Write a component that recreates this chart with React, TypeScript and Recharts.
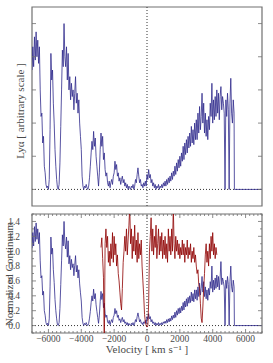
import { LineChart, Line, XAxis, YAxis, ReferenceLine, ReferenceArea } from "recharts";

// velocity grid of the spectrum, km/s
const VEL_START = -7000;
const VEL_STEP = 50;

// Lya flux, arbitrary scale, -7000 .. 5300 km/s (one row = 1000 km/s)
const LYA_FLUX = [
  3.6, 4.3, 3.7, 4.6, 3.9, 4.75, 4.0, 4.5, 3.8, 4.3, 3.0, 2.2, 2.3, 1.4, 1.6, 0.7, 0.5, 0.15, 0.05, 0.1,
  0.0, 0.3, 1.8, 4.1, 3.3, 3.6, 2.6, 2.0, 1.2, 0.7, 0.3, 0.05, 0.0, 0.15, 0.8, 1.9, 3.0, 4.2, 3.7, 5.0,
  4.0, 3.7, 4.3, 3.3, 4.1, 3.0, 3.4, 2.7, 3.2, 2.8, 3.0, 2.4, 2.9, 3.4, 2.6, 2.9, 2.3, 2.7, 2.0, 1.6,
  1.2, 0.4, 0.1, 0.0, 0.1, 0.05, 0.15, 0.05, 0.0, 0.1, 0.35, 0.7, 1.1, 1.45, 1.2, 1.75, 1.3, 1.55, 1.0, 0.7,
  0.4, 0.1, 0.5, 1.2, 1.7, 1.3, 1.6, 0.9, 1.1, 0.6, 0.4, 0.5, 0.2, 0.1, 0.25, 0.05, 0.2, 0.3, 0.15, 0.4,
  0.5, 0.85, 0.6, 0.75, 0.4, 0.5, 0.25, 0.35, 0.15, 0.3, 0.4, 0.2, 0.3, 0.1, 0.2, 0.05, 0.15, 0.0, 0.1, 0.05,
  0.0, 0.1, 0.05, 0.15, 0.0, 0.1, 0.3, 0.2, 0.45, 0.65, 0.4, 0.2, 0.3, 0.1, 0.15, 0.05, 0.2, 0.1, 0.25, 0.1,
  0.45, 0.3, 0.6, 0.35, 0.45, 0.2, 0.3, 0.1, 0.2, 0.05, 0.15, 0.0, 0.1, 0.05, 0.15, 0.0, 0.1, 0.05, 0.15, 0.05,
  0.2, 0.1, 0.25, 0.1, 0.3, 0.15, 0.35, 0.2, 0.4, 0.25, 0.5, 0.3, 0.55, 0.4, 0.7, 0.45, 0.8, 0.55, 0.9, 0.65,
  1.0, 0.7, 1.1, 0.85, 1.3, 0.9, 1.4, 1.05, 1.5, 1.1, 1.6, 1.25, 1.7, 1.3, 1.9, 1.4, 1.8, 1.35, 2.0, 1.5,
  2.1, 1.5, 2.3, 1.7, 2.5, 1.8, 2.2, 2.9, 2.0, 2.6, 1.7, 2.3, 1.6, 2.1, 1.5, 2.2, 1.8, 2.6, 2.2, 3.2,
  2.0, 2.7, 2.1, 2.8, 2.2, 3.0, 2.3, 2.9, 2.1, 2.8, 3.1, 2.4, 2.8, 2.6, 2.3, 0.0, 2.7, 2.2, 2.9, 2.4,
  0.0, 2.6, 3.35, 2.3, 2.0, 2.7, 2.3,
];

// same spectrum, normalized to the continuum
const NORM_FLUX = [
  1.04, 1.25, 1.07, 1.33, 1.13, 1.38, 1.16, 1.3, 1.1, 1.25, 0.87, 0.64, 0.67, 0.41, 0.46, 0.2, 0.14, 0.04, 0.01, 0.03,
  0.0, 0.09, 0.52, 1.19, 0.96, 1.04, 0.75, 0.58, 0.35, 0.2, 0.09, 0.01, 0.0, 0.04, 0.23, 0.55, 0.87, 1.22, 1.07, 1.4,
  1.11, 1.03, 1.19, 0.92, 1.14, 0.83, 0.94, 0.75, 0.89, 0.78, 0.83, 0.67, 0.81, 0.94, 0.72, 0.81, 0.64, 0.75, 0.56, 0.44,
  0.33, 0.11, 0.03, 0.0, 0.03, 0.01, 0.04, 0.01, 0.0, 0.03, 0.1, 0.19, 0.31, 0.4, 0.33, 0.49, 0.36, 0.43, 0.28, 0.19,
  0.11, 0.03, 0.14, 0.32, 0.46, 0.35, 0.43, 0.24, 0.3, 0.16, 0.11, 0.14, 0.05, 0.03, 0.07, 0.01, 0.05, 0.08, 0.04, 0.11,
  0.14, 0.23, 0.16, 0.2, 0.11, 0.14, 0.07, 0.09, 0.04, 0.08, 0.11, 0.05, 0.08, 0.03, 0.05, 0.01, 0.04, 0.0, 0.03, 0.01,
  0.0, 0.03, 0.01, 0.04, 0.0, 0.03, 0.08, 0.05, 0.12, 0.17, 0.11, 0.05, 0.08, 0.03, 0.04, 0.01, 0.05, 0.03, 0.07, 0.03,
  0.12, 0.08, 0.16, 0.09, 0.12, 0.05, 0.08, 0.03, 0.05, 0.01, 0.04, 0.0, 0.03, 0.01, 0.04, 0.0, 0.03, 0.01, 0.04, 0.01,
  0.05, 0.03, 0.06, 0.03, 0.08, 0.04, 0.09, 0.05, 0.1, 0.06, 0.13, 0.08, 0.14, 0.1, 0.18, 0.11, 0.2, 0.14, 0.23, 0.16,
  0.24, 0.17, 0.26, 0.2, 0.31, 0.21, 0.33, 0.25, 0.36, 0.26, 0.38, 0.3, 0.4, 0.31, 0.45, 0.33, 0.43, 0.32, 0.48, 0.36,
  0.48, 0.34, 0.52, 0.39, 0.57, 0.41, 0.5, 0.66, 0.45, 0.59, 0.39, 0.52, 0.36, 0.48, 0.34, 0.5, 0.41, 0.59, 0.5, 0.8,
  0.45, 0.61, 0.48, 0.64, 0.5, 0.68, 0.52, 0.66, 0.48, 0.64, 0.86, 0.55, 0.64, 0.59, 0.52, 0.0, 0.61, 0.5, 0.66, 0.55,
  0.0, 0.59, 0.8, 0.52, 0.45, 0.61, 0.52,
];

// second (red) normalized profile, -2800 .. 4250 km/s
const RED_START = -2800;
const RED_FLUX = [
  1.05, 1.18, 0.9, 0.65, -0.3, 1.1, 1.3, 1.05, 1.2, 0.85, 1.0, 0.8, 1.1, 0.9, 1.25, 0.85, 1.2, 0.95, 1.1, 0.8,
  0.95, 0.7, 0.6, 0.45, 0.3, 0.21, 0.5, 0.85, 1.0, 1.2, 1.0, 1.3, 0.95, 1.15, 1.35, 1.6, 1.1, 1.3, 0.9, 1.2,
  1.0, 1.35, 0.95, 1.15, 0.85, 1.25, 0.9, 1.1, 0.95, 1.15, 0.8, 0.6, 0.4, 0.15, 0.05, 0.0, -0.02, 0.0, 0.3, 1.0,
  1.2, 1.45, 1.0, 1.3, 0.95, 1.2, 1.05, 1.35, 0.9, 1.1, 1.3, 0.95, 1.2, 1.0, 1.25, 0.9, 1.15, 0.95, 1.2, 0.9,
  1.1, 0.85, 1.3, 1.0, 1.2, 0.95, 1.3, 1.0, 1.6, 1.1, 0.9, 1.2, 1.0, 1.15, 0.95, 1.1, 0.9, 1.05, 0.95, 1.15,
  0.95, 1.1, 0.85, 1.05, 0.95, 1.15, 0.9, 1.05, 0.95, 1.1, 0.85, 1.0, 0.9, 1.05, 0.85, 0.95, 0.8, 0.7, 0.75, 0.55,
  0.5, 0.3, 0.1, 0.04, 0.25, 0.5, 0.7, 0.95, 1.1, 0.85, 1.0, 0.8, 1.1, 0.9, 1.2, 1.0, 1.25, 0.95, 1.1, 0.9,
  1.05, 0.95,
];

// flat zero past the red end of the spectrum
const TAIL_VEL = [5320, 7000];
const TAIL_FLUX = [0, 0];

const X_TICKS = [-6000, -4000, -2000, 0, 2000, 4000, 6000];
const X_MINOR = [
  -7000, -6750, -6500, -6250, -6000, -5750, -5500, -5250, -5000, -4750,
  -4500, -4250, -4000, -3750, -3500, -3250, -3000, -2750, -2500, -2250,
  -2000, -1750, -1500, -1250, -1000, -750, -500, -250, 0, 250, 500, 750,
  1000, 1250, 1500, 1750, 2000, 2250, 2500, 2750, 3000, 3250, 3500, 3750,
  4000, 4250, 4500, 4750, 5000, 5250, 5500, 5750, 6000, 6250, 6500, 6750, 7000,
];
const LYA_TICKS = [0, 1, 2, 3, 4, 5];
const NORM_TICKS = [0, 0.2, 0.4, 0.6, 0.8, 1.0, 1.2, 1.4];
const NORM_MINOR = [
  -0.1, 0.0, 0.1, 0.2, 0.3, 0.4, 0.5, 0.6, 0.7, 0.8, 0.9, 1.0, 1.1, 1.2,
  1.3, 1.4, 1.5,
];

const topData = [
  ...LYA_FLUX.map((f, i) => ({ v: VEL_START + i * VEL_STEP, f })),
  ...TAIL_VEL.map((v, i) => ({ v, f: TAIL_FLUX[i] })),
];

const botData = [
  ...NORM_FLUX.map((f, i) => {
    const v = VEL_START + i * VEL_STEP;
    const j = (v - RED_START) / VEL_STEP;
    return { v, f, r: j >= 0 && j < RED_FLUX.length ? RED_FLUX[j] : null };
  }),
  ...TAIL_VEL.map((v, i) => ({ v, f: TAIL_FLUX[i], r: null })),
];

const FONT = "'Liberation Serif', 'DejaVu Serif', serif";
const AXIS_GREY = "#707070";
const TEXT_GREY = "#4a4a4a";
const BLUE = "#2f2a8c";
const RED = "#8e0000";
const X_DOMAIN: [number, number] = [-7000, 7000];
const LYA_DOMAIN: [number, number] = [-0.5, 5.5];
const NORM_DOMAIN: [number, number] = [-0.1, 1.5];

const PLOT_W = 230;
const TOP_H = 199;
const BOT_H = 119;
const X_MARGIN = 2; // gap between plot bottom and x tick labels
const Y_MARGIN = 12; // gap between plot left and y tick labels

const fmtVel = (v: number) => (v < 0 ? "\u2212" + Math.abs(v) : String(v));

// inward ticks on bottom and top edges, label under the bottom edge
function XTick(props: any) {
  const { x, y, payload, plotH, labels } = props;
  const v = payload.value as number;
  const major = X_TICKS.includes(v);
  const len = major ? 4 : 2;
  const yb = y - X_MARGIN;
  const yt = yb - plotH;
  return (
    <g>
      <line x1={x} x2={x} y1={yb} y2={yb - len} stroke={AXIS_GREY} strokeWidth={0.8} />
      <line x1={x} x2={x} y1={yt} y2={yt + len} stroke={AXIS_GREY} strokeWidth={0.8} />
      {labels && major ? (
        <text
          x={x}
          y={y}
          dy="0.71em"
          textAnchor="middle"
          fontSize={9.5}
          fontFamily={FONT}
          fill={TEXT_GREY}
        >
          {fmtVel(v)}
        </text>
      ) : null}
    </g>
  );
}

// inward ticks on left and right edges, label left of the plot
function YTick(props: any) {
  const { x, y, payload, majors, labels } = props;
  const v = payload.value as number;
  const major = majors.some((m: number) => Math.abs(m - v) < 1e-6);
  const len = major ? 4 : 2;
  const xl = x + Y_MARGIN;
  const xr = xl + PLOT_W;
  return (
    <g>
      <line x1={xl} x2={xl + len} y1={y} y2={y} stroke={AXIS_GREY} strokeWidth={0.8} />
      <line x1={xr} x2={xr - len} y1={y} y2={y} stroke={AXIS_GREY} strokeWidth={0.8} />
      {labels && major ? (
        <text
          x={x}
          y={y}
          dy="0.355em"
          textAnchor="end"
          fontSize={9.5}
          fontFamily={FONT}
          fill={TEXT_GREY}
        >
          {v.toFixed(1)}
        </text>
      ) : null}
    </g>
  );
}

function TopPanel() {
  return (
    <LineChart
      width={273}
      height={210}
      data={topData}
      margin={{ top: 7, right: 11, bottom: 4, left: 0 }}
    >
      <XAxis
        xAxisId="b"
        dataKey="v"
        type="number"
        domain={X_DOMAIN}
        ticks={X_TICKS}
        interval={0}
        allowDataOverflow
        height={0}
        axisLine={false}
        tickLine={false}
        tickSize={0}
        tickMargin={X_MARGIN}
        tick={<XTick plotH={TOP_H} labels={false} />}
      />
      <YAxis
        yAxisId="l"
        type="number"
        domain={LYA_DOMAIN}
        ticks={LYA_TICKS}
        interval={0}
        allowDataOverflow
        width={32}
        axisLine={false}
        tickLine={false}
        tickSize={0}
        tickMargin={Y_MARGIN}
        tick={<YTick majors={LYA_TICKS} labels={false} />}
      />
      <ReferenceArea
        xAxisId="b"
        yAxisId="l"
        x1={X_DOMAIN[0]}
        x2={X_DOMAIN[1]}
        y1={LYA_DOMAIN[0]}
        y2={LYA_DOMAIN[1]}
        fill="none"
        stroke={AXIS_GREY}
        strokeWidth={1.2}
      />
      <ReferenceLine xAxisId="b" yAxisId="l" x={0} stroke="#333" strokeDasharray="1 2" />
      <ReferenceLine xAxisId="b" yAxisId="l" y={0} stroke="#333" strokeDasharray="1 2" />
      <Line
        xAxisId="b"
        yAxisId="l"
        type="linear"
        dataKey="f"
        stroke={BLUE}
        strokeOpacity={0.8}
        strokeWidth={1}
        dot={false}
        isAnimationActive={false}
      />
    </LineChart>
  );
}

function BottomPanel() {
  return (
    <LineChart
      width={273}
      height={156}
      data={botData}
      margin={{ top: 7, right: 11, bottom: 0, left: 0 }}
    >
      <XAxis
        xAxisId="b"
        dataKey="v"
        type="number"
        domain={X_DOMAIN}
        ticks={X_MINOR}
        interval={0}
        allowDataOverflow
        height={30}
        axisLine={false}
        tickLine={false}
        tickSize={0}
        tickMargin={X_MARGIN}
        tick={<XTick plotH={BOT_H} labels />}
      />
      <YAxis
        yAxisId="l"
        type="number"
        domain={NORM_DOMAIN}
        ticks={NORM_MINOR}
        interval={0}
        allowDataOverflow
        width={32}
        axisLine={false}
        tickLine={false}
        tickSize={0}
        tickMargin={Y_MARGIN}
        tick={<YTick majors={NORM_TICKS} labels />}
      />
      <ReferenceArea
        xAxisId="b"
        yAxisId="l"
        x1={X_DOMAIN[0]}
        x2={X_DOMAIN[1]}
        y1={NORM_DOMAIN[0]}
        y2={NORM_DOMAIN[1]}
        fill="none"
        stroke={AXIS_GREY}
        strokeWidth={1.2}
      />
      <ReferenceLine xAxisId="b" yAxisId="l" x={0} stroke="#333" strokeDasharray="1 2" />
      <ReferenceLine xAxisId="b" yAxisId="l" y={0} stroke="#333" strokeDasharray="1 2" />
      <Line
        xAxisId="b"
        yAxisId="l"
        type="linear"
        dataKey="f"
        stroke={BLUE}
        strokeOpacity={0.8}
        strokeWidth={1}
        dot={false}
        isAnimationActive={false}
      />
      <Line
        xAxisId="b"
        yAxisId="l"
        type="linear"
        dataKey="r"
        stroke={RED}
        strokeOpacity={0.8}
        strokeWidth={1}
        dot={false}
        connectNulls={false}
        isAnimationActive={false}
      />
    </LineChart>
  );
}

export default function App() {
  return (
    <div
      style={{
        position: "absolute",
        left: 0,
        top: 0,
        width: 273,
        height: 363,
        background: "#fff",
      }}
    >
      <div style={{ position: "absolute", left: 0, top: 0 }}>
        <TopPanel />
      </div>
      <div style={{ position: "absolute", left: 0, top: 207 }}>
        <BottomPanel />
      </div>
      <svg
        width={273}
        height={363}
        style={{ position: "absolute", left: 0, top: 0, pointerEvents: "none" }}
        fontFamily={FONT}
        fill={TEXT_GREY}
        fontSize={11}
      >
        <text x={20} y={111} textAnchor="middle" dominantBaseline="central" transform="rotate(-90 20 111)">
          Lyα [ arbitrary scale ]
        </text>
        <text x={9} y={274} textAnchor="middle" dominantBaseline="central" transform="rotate(-90 9 274)">
          Normalized Continuum
        </text>
        <text x={147} y={353} textAnchor="middle">
          Velocity [ km s⁻¹ ]
        </text>
      </svg>
    </div>
  );
}
